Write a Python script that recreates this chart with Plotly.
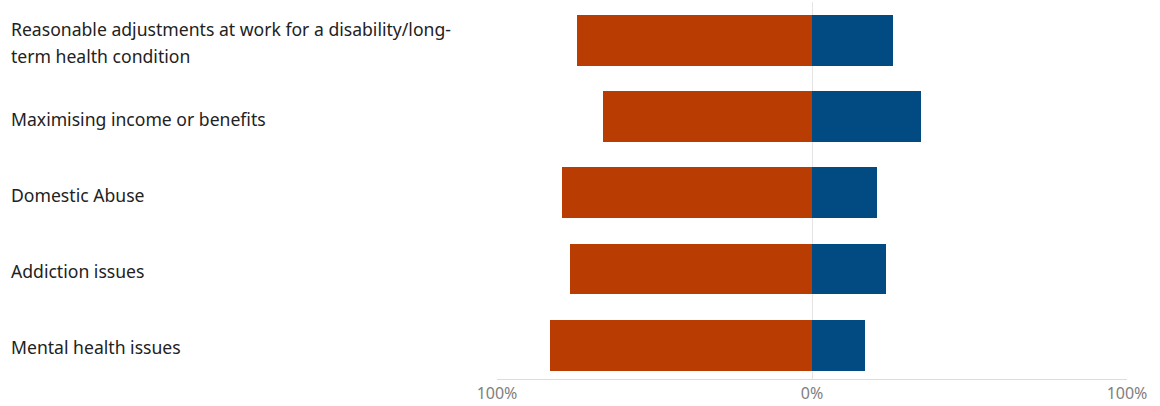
import plotly.graph_objects as go

categories = [
    "Reasonable adjustments at work for a disability/long-<br>term health condition",
    "Maximising income or benefits",
    "Domestic Abuse",
    "Addiction issues",
    "Mental health issues",
]
left_values = [74.7, 66.3, 79.5, 76.7, 83.3]   # drawn to the left of 0%
right_values = [25.7, 34.6, 20.7, 23.5, 16.9]  # drawn to the right of 0%
tick_vals = [-100, 0, 100]
tick_text = ["100%", "0%", "100%"]

ORANGE = "#B93C02"
BLUE = "#024A82"
FONT = "Noto Sans, Open Sans, sans-serif"

fig = go.Figure()
fig.add_trace(go.Bar(
    y=list(range(len(categories))), x=[-v for v in left_values], orientation="h",
    marker=dict(color=ORANGE, line=dict(width=0)), width=0.665, showlegend=False,
    hoverinfo="skip",
))
fig.add_trace(go.Bar(
    y=list(range(len(categories))), x=right_values, orientation="h",
    marker=dict(color=BLUE, line=dict(width=0)), width=0.665, showlegend=False,
    hoverinfo="skip",
))

L, R, T, B = 497, 1127, 2, 381
pw = R - L
pitch = 76.6
line_gap = 27
for i, c in enumerate(categories):
    lines = c.split("<br>")
    n = len(lines)
    for j, line in enumerate(lines):
        off = (j - (n - 1) / 2) * line_gap
        fig.add_annotation(
            x=(9 - L) / pw, xref="paper", y=i, yref="y", yshift=-2 - off,
            text=line, showarrow=False, xanchor="left", yanchor="middle", align="left",
            font=dict(family=FONT, size=17.6, color="#222222"),
        )

fig.update_layout(
    width=1160, height=406,
    margin=dict(l=L, r=1160 - R, t=T, b=406 - B),
    barmode="relative",
    plot_bgcolor="white", paper_bgcolor="white",
    bargap=0,
)
fig.update_xaxes(
    range=[-100, 100], tickvals=tick_vals, ticktext=tick_text,
    showgrid=True, gridcolor="#e4e4e4", gridwidth=1,
    zeroline=True, zerolinecolor="#e4e4e4", zerolinewidth=1,
    showline=True, linecolor="#dcdcdc", linewidth=1,
    tickfont=dict(family=FONT, size=16, color="#808080"),
    fixedrange=True,
)
top_val = -(40.5 - T) / pitch
bot_val = 4 + (B - 347) / pitch
fig.update_yaxes(
    range=[bot_val, top_val], showticklabels=False, showgrid=False,
    zeroline=False, fixedrange=True,
)
fig.write_html("out.html", config={"displayModeBar": False},
               post_script="document.body.style.margin='0';")
